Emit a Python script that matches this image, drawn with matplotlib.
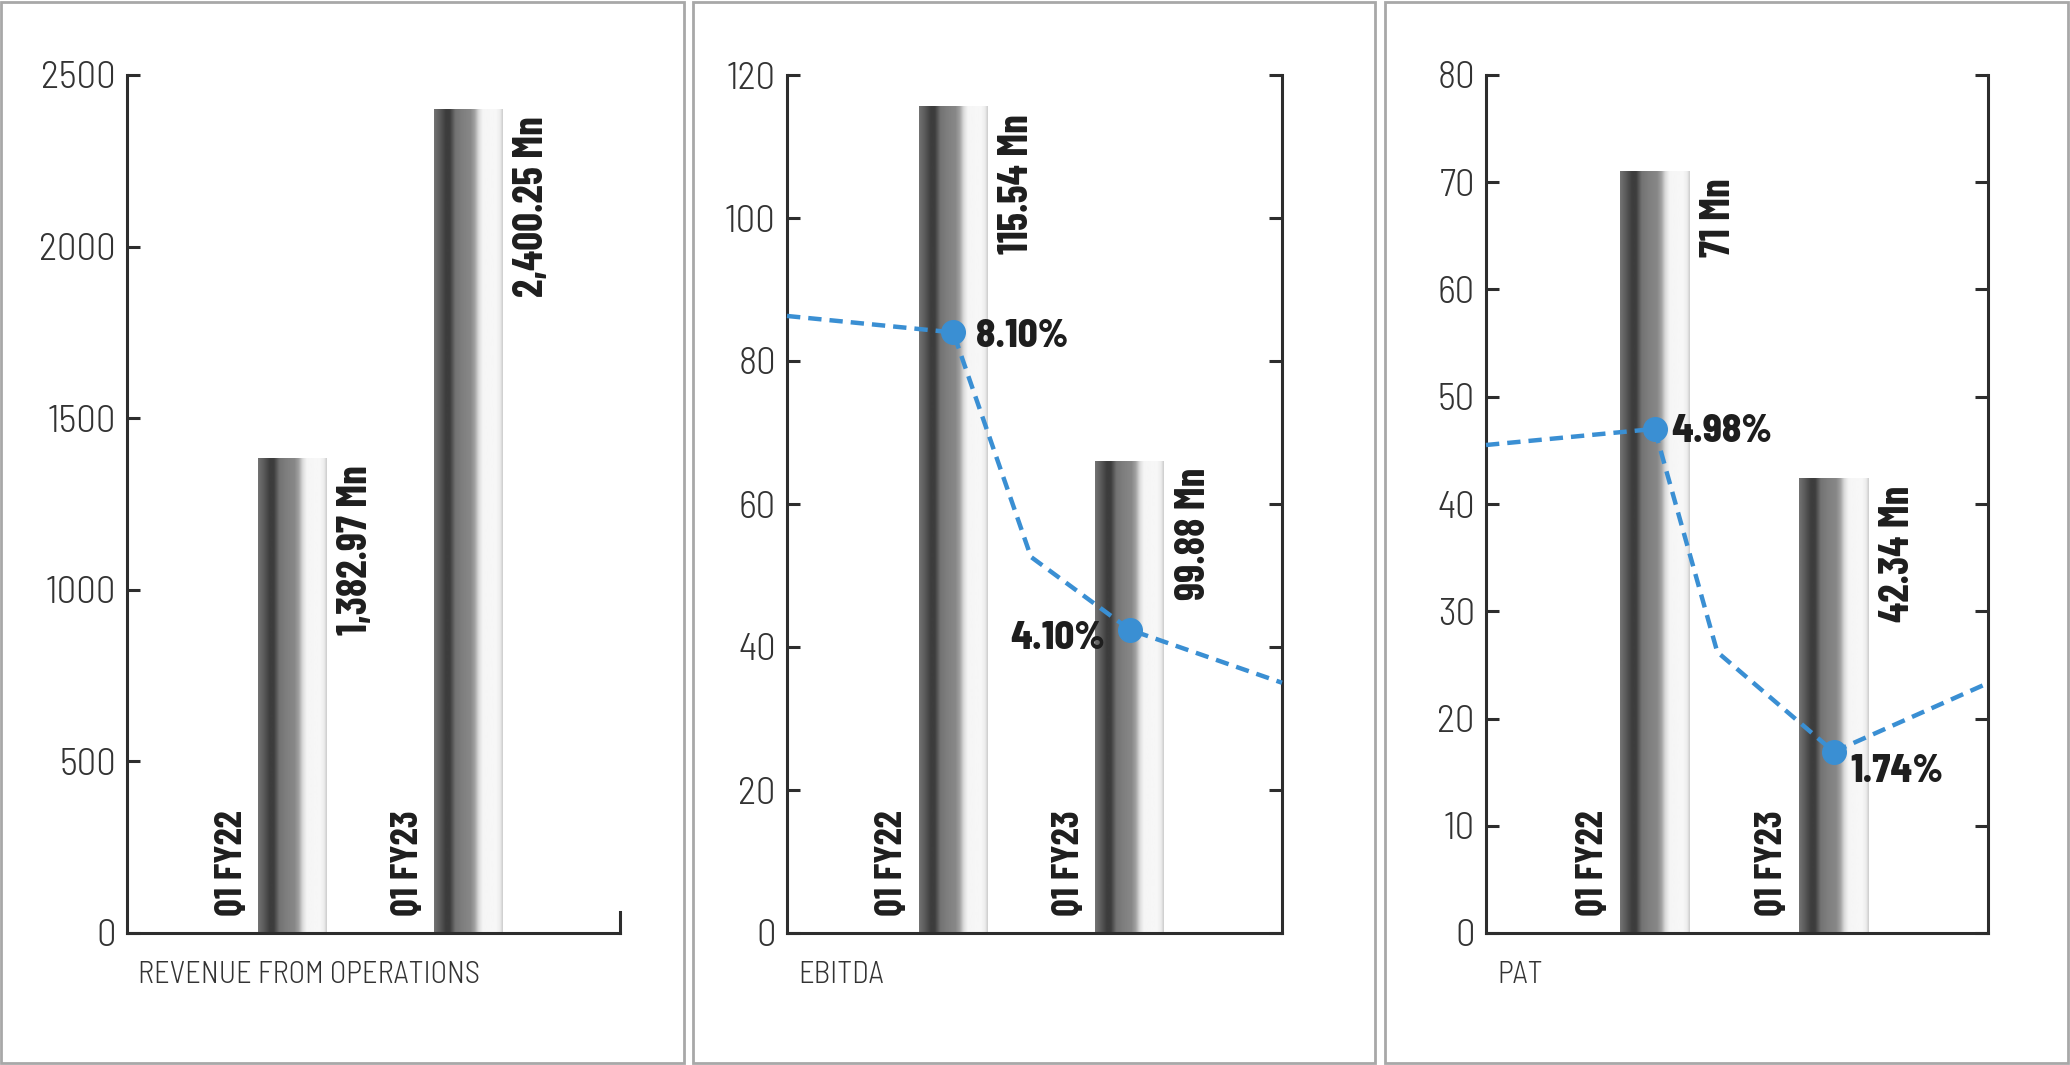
import numpy as np
import matplotlib
matplotlib.use("Agg")
import matplotlib.pyplot as plt
from matplotlib.patches import Rectangle

# chart data
periods = ["Q1 FY22", "Q1 FY23"]

revenue = [1382.97, 2400.25]
revenue_labels = ["1,382.97 Mn", "2,400.25 Mn"]

ebitda = [115.54, 66.0]
ebitda_labels = ["115.54 Mn", "99.88 Mn"]
ebitda_margin_x = [-0.94, 0.0, 0.44, 1.0, 1.86]
ebitda_margin_y = [86.3, 84.0, 52.6, 42.4, 35.0]
ebitda_margin_labels = ["8.10%", "4.10%"]

pat = [71.0, 42.34]
pat_labels = ["71 Mn", "42.34 Mn"]
pat_margin_x = [-0.94, 0.0, 0.35, 1.0, 1.86]
pat_margin_y = [45.5, 47.0, 26.2, 16.9, 23.3]
pat_margin_labels = ["4.98%", "1.74%"]

W, H = 2070, 1065
DARK = "#2d2d2d"
BLUE = "#3a8fd3"
COND = ["Barlow Condensed", "DejaVu Sans"]
SEMI = ["Barlow Semi Condensed", "DejaVu Sans"]

plt.rcParams["font.family"] = COND

# metallic shading across a bar (left -> right)
shade_pos = [0.0, 0.08, 0.17, 0.23, 0.31, 0.42, 0.53, 0.59, 0.65, 0.71, 0.90, 0.96, 1.0]
shade_val = [0.45, 0.36, 0.24, 0.24, 0.45, 0.50, 0.53, 0.63, 0.86, 0.96, 0.97, 0.93, 0.80]
shade = np.interp(np.linspace(0, 1, 256), shade_pos, shade_val)[None, :]


def draw_panel(ax, values, value_labels, ymax, ystep, title, right_axis,
               line_x=None, line_y=None, line_labels=None, label_offsets=None):
    pos = np.arange(len(periods))
    bars = ax.bar(pos, values, width=0.39, color="none", edgecolor="none", zorder=2)
    for bar, cat, lab in zip(bars, periods, value_labels):
        x0, w, h = bar.get_x(), bar.get_width(), bar.get_height()
        ax.imshow(shade, cmap="gray", vmin=0, vmax=1, extent=(x0, x0 + w, 0, h),
                  aspect="auto", interpolation="bilinear", zorder=2)
        ax.annotate(lab, xy=(x0 + w, h), xytext=(21, -5), textcoords="offset points",
                    rotation=90, ha="center", va="top", fontsize=30, fontweight=700,
                    color="#1e1e1e")
        ax.annotate(cat, xy=(x0, 0), xytext=(-19, 12), textcoords="offset points",
                    rotation=90, ha="center", va="bottom", fontsize=28, fontweight=700,
                    color="#1e1e1e")

    if line_x is not None:
        ax.plot(line_x, line_y, color=BLUE, lw=3.2, linestyle=(0, (3, 1.8)),
                marker="o", markevery=[1, 3], markersize=17, zorder=4, clip_on=False)
        for i, (lab, (dx, dy, ha)) in enumerate(zip(line_labels, label_offsets)):
            idx = [1, 3][i]
            ax.annotate(lab, xy=(line_x[idx], line_y[idx]), xytext=(dx, dy),
                        textcoords="offset points", ha=ha, va="center",
                        fontsize=28, fontweight=800, color="#1e1e1e",
                        family=SEMI, zorder=5)

    ax.set_xlim(-0.94, 1.86)
    ax.set_ylim(0, ymax)
    ax.set_yticks(np.arange(0, ymax + 1, ystep))
    ax.set_xticks([])
    ax.spines["top"].set_visible(False)
    for s in ["left", "bottom", "right"]:
        ax.spines[s].set_linewidth(2.2)
        ax.spines[s].set_color(DARK)
    if right_axis:
        ax.tick_params(axis="y", right=True, labelright=False)
    else:
        ax.spines["right"].set_bounds(0, ymax * 21 / 858)
    ax.tick_params(axis="y", direction="in", length=9.5, width=2.2, color=DARK,
                   pad=8, labelsize=28, labelcolor="#333333")
    for t in ax.get_yticklabels():
        t.set_fontweight(300)
        t.set_family(SEMI)
    ax.annotate(title, xy=(0, 0), xycoords="axes fraction", xytext=(8, -30),
                textcoords="offset points", ha="left", va="center", fontsize=22,
                fontweight=300, color="#333333", family=SEMI)


fig = plt.figure(figsize=(W / 100, H / 100), dpi=100)
bottom, height = 1 - 933 / H, (933 - 75) / H
ax1 = fig.add_axes([127 / W, bottom, 493 / W, height])
ax2 = fig.add_axes([787 / W, bottom, 495 / W, height])
ax3 = fig.add_axes([1486 / W, bottom, 502 / W, height])

draw_panel(ax1, revenue, revenue_labels, 2500, 500, "REVENUE FROM OPERATIONS", False)
draw_panel(ax2, ebitda, ebitda_labels, 120, 20, "EBITDA", True,
           ebitda_margin_x, ebitda_margin_y, ebitda_margin_labels,
           [(16.5, -3, "left"), (-18, -6, "right")])
draw_panel(ax3, pat, pat_labels, 80, 10, "PAT", True,
           pat_margin_x, pat_margin_y, pat_margin_labels,
           [(12, -2, "left"), (12, -14, "left")])

# panel frames
for x0, x1 in [(1, 684), (693, 1375), (1385, 2068)]:
    fig.add_artist(Rectangle((x0 / W, 2 / H), (x1 - x0) / W, (H - 4) / H,
                             transform=fig.transFigure, fill=False,
                             edgecolor="#a8a8a8", linewidth=2))

fig.savefig("out.png", dpi=100, facecolor="white")
